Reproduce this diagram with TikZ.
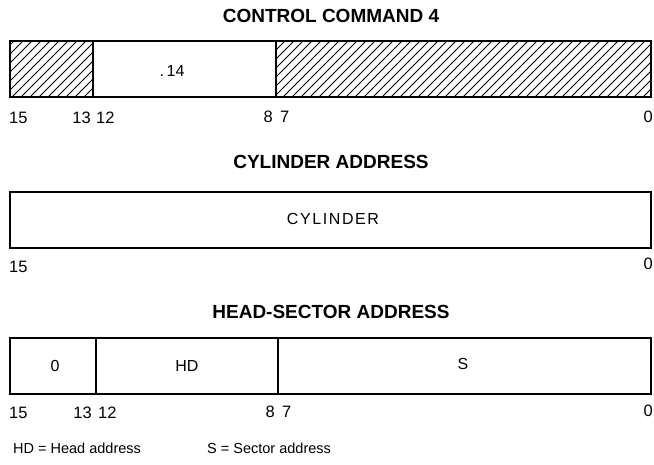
\documentclass[tikz,border=0pt]{standalone}
\usepackage{fontspec}
\setmainfont{Liberation Sans}
\begin{document}
\begin{tikzpicture}[x=1pt,y=-1pt,
  frame/.style={line width=1.8pt},
  divider/.style={line width=1.3pt},
  hatch/.style={line width=0.8pt},
  title/.style={font=\fontsize{19}{19}\selectfont\bfseries, inner sep=0},
  bitlabel/.style={font=\fontsize{16.5}{17}\selectfont, inner sep=0},
  field/.style={font=\fontsize{16}{16}\selectfont, inner sep=0},
  note/.style={font=\fontsize{14.5}{15}\selectfont, inner sep=0, anchor=west}]
\useasboundingbox (0,0) rectangle (654,465);

% ---------- CONTROL COMMAND 4 ----------
\node[title] (t1) at (331,16) {CONTROL COMMAND 4};
\begin{scope}
  \clip (10,41) rectangle (93,97);
  \foreach \i in {-60,-51,...,100} \draw[hatch] (\i,97) -- ++(56,-56);
\end{scope}
\begin{scope}
  \clip (276,41) rectangle (651,97);
  \foreach \i in {220,229,...,660} \draw[hatch] (\i,97) -- ++(56,-56);
\end{scope}
\draw[frame] (10,41) rectangle (651,97);
\draw[divider] (93,41) -- (93,97);
\draw[divider] (276,41) -- (276,97);
\node[field] (f14) at (172,71) {.\,14};
\node[bitlabel,anchor=west] (a15) at (9,118) {15};
\node[bitlabel,anchor=east] (a13) at (91,118) {13};
\node[bitlabel,anchor=west] (a12) at (96,118) {12};
\node[bitlabel,anchor=east] (a8) at (273,117) {8};
\node[bitlabel,anchor=west] (a7) at (280,117) {7};
\node[bitlabel,anchor=east] (a0) at (653,117) {0};

% ---------- CYLINDER ADDRESS ----------
\node[title] (t2) at (331,162) {CYLINDER ADDRESS};
\draw[frame] (10,192) rectangle (651,248);
\node[field] (cyl) at (333,219) {C\kern1.6ptY\kern1.6ptL\kern1.6ptI\kern1.6ptN\kern1.6ptD\kern1.6ptE\kern1.6ptR};
\node[bitlabel,anchor=west] (b15) at (9,267) {15};
\node[bitlabel,anchor=east] (b0) at (653,264) {0};

% ---------- HEAD-SECTOR ADDRESS ----------
\node[title] (t3) at (331,312) {HEAD-SECTOR ADDRESS};
\draw[frame] (10,338) rectangle (651,394);
\draw[divider] (96,338) -- (96,394);
\draw[divider] (278,338) -- (278,394);
\node[field] (zero) at (55,366) {0};
\node[field] (hd) at (187,366) {HD};
\node[field] (s) at (463,364) {S};
\node[bitlabel,anchor=west] (c15) at (9,413) {15};
\node[bitlabel,anchor=east] (c13) at (92,413) {13};
\node[bitlabel,anchor=west] (c12) at (98,413) {12};
\node[bitlabel,anchor=east] (c8) at (275,412) {8};
\node[bitlabel,anchor=west] (c7) at (282,412) {7};
\node[bitlabel,anchor=east] (c0) at (653,411) {0};

% ---------- legend ----------
\node[note] (n1) at (13,448) {HD = Head address};
\node[note] (n2) at (207,448) {S = Sector address};
\end{tikzpicture}
\end{document}
